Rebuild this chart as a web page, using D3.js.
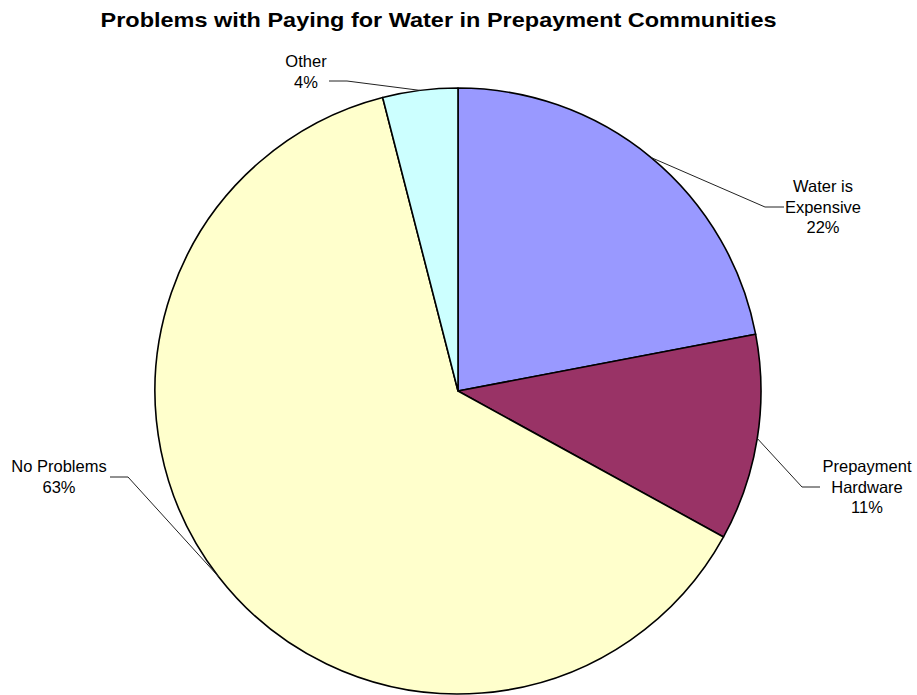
<!DOCTYPE html>
<html>
<head>
<meta charset="utf-8">
<script src="https://cdn.jsdelivr.net/npm/d3@7"></script>
<style>
  html, body { margin: 0; padding: 0; background: #fff; }
  svg { display: block; }
  text { font-family: "Liberation Sans", Arial, sans-serif; fill: #000; }
</style>
</head>
<body>
<svg id="chart" width="917" height="695"></svg>
<script>
// Survey answers, percent of households
const categories = ["Water is Expensive", "Prepayment Hardware", "No Problems", "Other"];
const values = [22, 11, 63, 4];
const labelLines = [["Water is", "Expensive", "22%"], ["Prepayment", "Hardware", "11%"], ["No Problems", "63%"], ["Other", "4%"]];
const colors = ["#9999FF", "#993366", "#FFFFCC", "#CCFFFF"];

const W = 917, H = 695;
const cx = 458, cy = 391, R = 303;

// Label placement: text centre x, first baseline y, elbow point, end of horizontal stub
const labelLayout = [
  { tx: 823, ty: 192, elbow: [765, 207], stub: [784, 207] },
  { tx: 867, ty: 472, elbow: [802, 487], stub: [820, 487] },
  { tx: 59,  ty: 472, elbow: [128, 477], stub: [110, 477] },
  { tx: 306, ty: 67,  elbow: [347, 81],  stub: [329, 81] }
];

const svg = d3.select("#chart");

svg.append("text")
  .attr("x", 438.5)
  .attr("y", 27)
  .attr("text-anchor", "middle")
  .attr("textLength", 676)
  .attr("lengthAdjust", "spacingAndGlyphs")
  .style("font-size", "20.5px")
  .style("font-weight", "bold")
  .text("Problems with Paying for Water in Prepayment Communities");

const pie = d3.pie().sort(null).value(d => d)(values);
const arc = d3.arc().innerRadius(0).outerRadius(R);

const g = svg.append("g").attr("transform", `translate(${cx},${cy})`);

g.selectAll("path.slice")
  .data(pie)
  .join("path")
  .attr("class", "slice")
  .attr("d", arc)
  .attr("fill", (d, i) => colors[i])
  .attr("stroke", "#000")
  .attr("stroke-width", 1.6)
  .attr("stroke-linejoin", "round");

// Leader lines from the slice's mid-angle on the rim to each label
pie.forEach((d, i) => {
  const a = (d.startAngle + d.endAngle) / 2;
  const px = cx + R * Math.sin(a), py = cy - R * Math.cos(a);
  const L = labelLayout[i];
  svg.append("polyline")
    .attr("points", [[px, py], L.elbow, L.stub].map(p => p.join(",")).join(" "))
    .attr("fill", "none")
    .attr("stroke", "#222")
    .attr("stroke-width", 1);

  const t = svg.append("text")
    .attr("text-anchor", "middle")
    .style("font-size", "16.5px");
  labelLines[i].forEach((line, k) => {
    t.append("tspan")
      .attr("x", L.tx)
      .attr("y", L.ty + k * 20.7)
      .text(line);
  });
});
</script>
</body>
</html>
